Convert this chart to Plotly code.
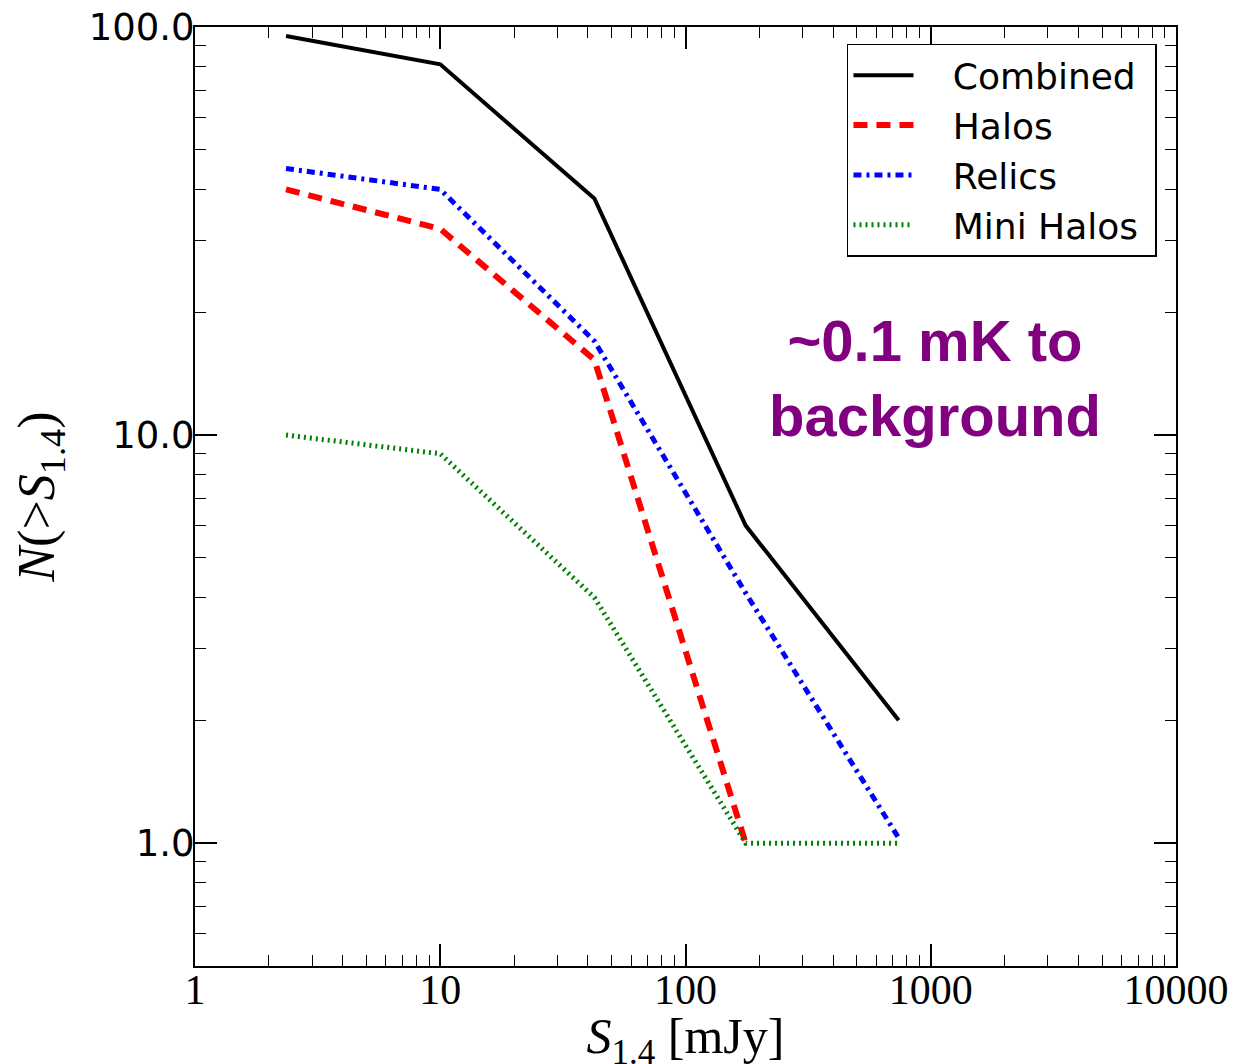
import plotly.graph_objects as go

flux = [2.35, 10, 42.5, 176, 740]
combined = [95, 81, 38, 6, 2]
halos = [40, 32, 15.3, 1]
relics = [45, 40, 17, 4.1, 1.03]
mini_halos = [10, 9, 4, 1, 1]

x_ticks = [1, 10, 100, 1000, 10000]
x_ticktext = ["1", "10", "100", "1000", "10000"]
y_ticks = [1, 10, 100]
y_ticktext = ["1.0", "10.0", "100.0"]

x_minor = [m * 10 ** d for d in range(0, 4) for m in range(2, 10)]
y_minor = [m * 10 ** d for d in range(-1, 2) for m in range(2, 10) if m * 10 ** d >= 0.5]

pad = "&nbsp;" * 3
tail = "&nbsp;"
fig = go.Figure()
fig.add_trace(go.Scatter(x=flux, y=combined, mode="lines", name=pad + "Combined" + tail,
                         line=dict(color="black", width=4)))
fig.add_trace(go.Scatter(x=flux[:4], y=halos, mode="lines", name=pad + "Halos" + tail,
                         line=dict(color="red", width=6, dash="14px,9px")))
fig.add_trace(go.Scatter(x=flux, y=relics, mode="lines", name=pad + "Relics" + tail,
                         line=dict(color="blue", width=5, dash="8px,5px,3px,5px")))
fig.add_trace(go.Scatter(x=flux, y=mini_halos, mode="lines", name=pad + "Mini Halos" + tail,
                         line=dict(color="green", width=5, dash="2px,4px")))

axis_common = dict(showline=True, linecolor="black", linewidth=2, mirror="ticks",
                   ticks="inside", tickcolor="black", tickwidth=1.5, showgrid=False,
                   zeroline=False, ticklabeloverflow="allow")

fig.update_xaxes(type="log", range=[0, 4], tickmode="array", tickvals=x_ticks,
                 ticktext=x_ticktext, ticklen=22, ticklabelstandoff=-14,
                 tickfont=dict(family="Liberation Serif", size=42, color="black"),
                 title=dict(text="<i>S</i><sub>1.4</sub> [mJy]",
                            font=dict(family="Liberation Serif", size=50, color="black"),
                            standoff=0),
                 minor=dict(tickmode="array", tickvals=x_minor, ticks="inside",
                            ticklen=11, tickcolor="black", tickwidth=1.2),
                 **axis_common)
fig.update_yaxes(type="log", range=[-0.30103, 2], tickmode="array", tickvals=y_ticks,
                 ticktext=y_ticktext, ticklen=22, ticklabelstandoff=-9,
                 tickfont=dict(family="DejaVu Sans", size=37, color="black"),
                 title=dict(text="<i>N</i>(&gt;<i>S</i><sub>1.4</sub>)",
                            font=dict(family="Liberation Serif", size=52, color="black"),
                            standoff=18),
                 minor=dict(tickmode="array", tickvals=y_minor, ticks="inside",
                            ticklen=11, tickcolor="black", tickwidth=1.2),
                 **axis_common)

fig.add_annotation(text="~0.1 mK to<br>background", xref="paper", yref="paper",
                   x=0.754, y=0.626, xanchor="center", yanchor="middle", showarrow=False,
                   font=dict(family="Liberation Sans", size=58, color="#800080", weight="bold"))

fig.update_layout(
    width=1247, height=1064,
    margin=dict(l=187, r=79, t=19, b=106, autoexpand=False),
    plot_bgcolor="white", paper_bgcolor="white",
    legend=dict(x=0.9806, y=0.982, xanchor="right", yanchor="top",
                bordercolor="black", borderwidth=1.5, bgcolor="white",
                font=dict(family="DejaVu Sans", size=36, color="black"),
                itemwidth=60, tracegroupgap=0),
)

fig.write_html("out.html")
